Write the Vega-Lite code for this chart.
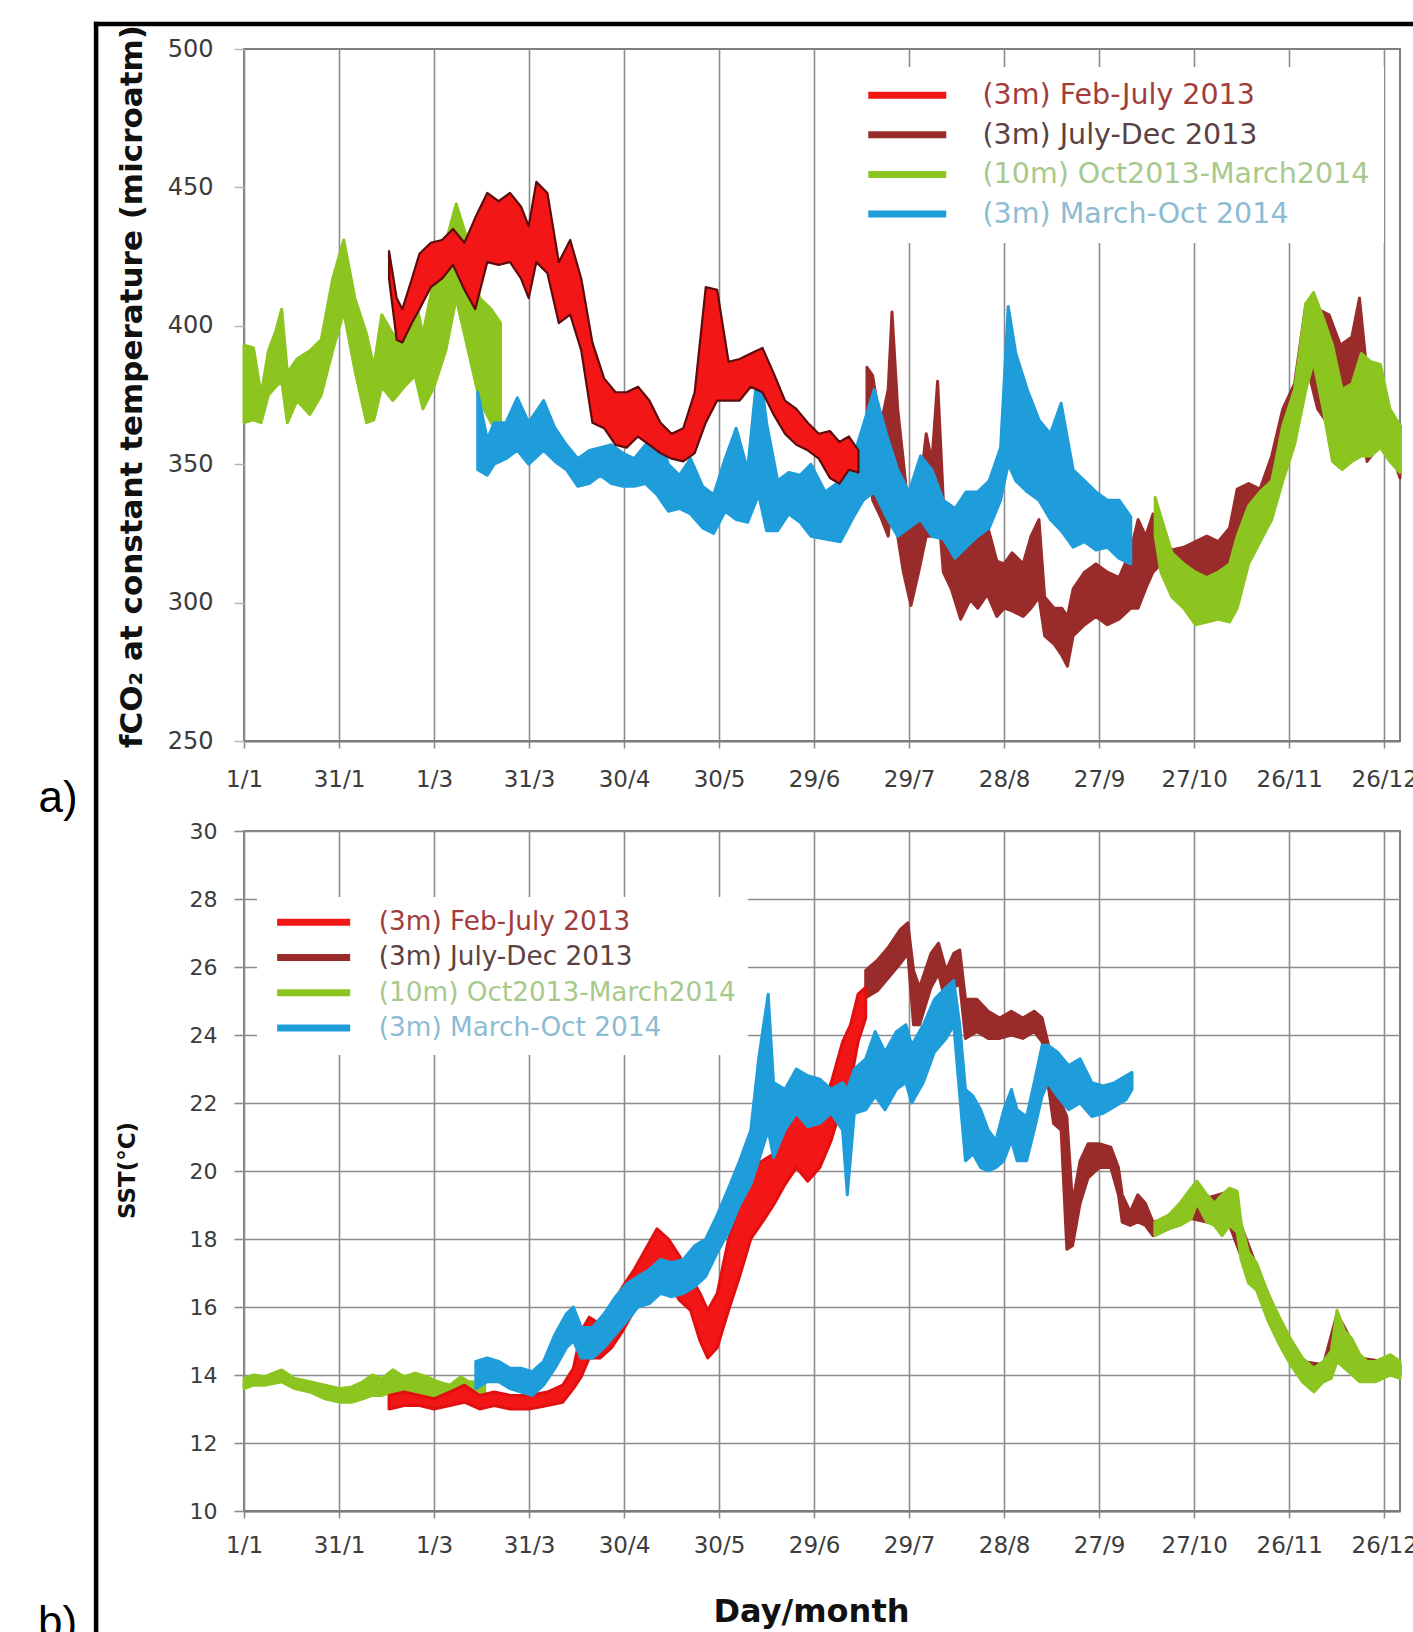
{
  "$schema": "https://vega.github.io/schema/vega-lite/v6.json",
  "background": "#ffffff",
  "padding": {"left": 37, "top": 18, "right": 0, "bottom": 0},
  "autosize": {"type": "pad"},
  "config": {"view": {"stroke": "#7f7f7f", "strokeWidth": 2}},
  "spacing": 90,
  "bounds": "flush",
  "resolve": {"legend": {"color": "independent"}},
  "datasets": {
    "co2": [
      {"s":"C","g":1,"d":0,"lo":365,"hi":393},{"s":"C","g":1,"d":3,"lo":366,"hi":392},{"s":"C","g":1,"d":5.4,"lo":365,"hi":375},{"s":"C","g":1,"d":7.7,"lo":375,"hi":391},{"s":"C","g":1,"d":10,"lo":378,"hi":398},{"s":"C","g":1,"d":11.9,"lo":380,"hi":406},{"s":"C","g":1,"d":13.7,"lo":365,"hi":383},{"s":"C","g":1,"d":16.7,"lo":373,"hi":388},{"s":"C","g":1,"d":20.8,"lo":368,"hi":391},{"s":"C","g":1,"d":24.4,"lo":375,"hi":395},{"s":"C","g":1,"d":28,"lo":391,"hi":417},{"s":"C","g":1,"d":31.5,"lo":405,"hi":431},{"s":"C","g":1,"d":35,"lo":384,"hi":410},{"s":"C","g":1,"d":38.7,"lo":365,"hi":397},{"s":"C","g":1,"d":41,"lo":366,"hi":385},{"s":"C","g":1,"d":43.5,"lo":378,"hi":404},{"s":"C","g":1,"d":47,"lo":373,"hi":397},{"s":"C","g":1,"d":50.6,"lo":378,"hi":395},{"s":"C","g":1,"d":54,"lo":382,"hi":410},{"s":"C","g":1,"d":56.5,"lo":370,"hi":397},{"s":"C","g":1,"d":60,"lo":378,"hi":417},{"s":"C","g":1,"d":63.7,"lo":391,"hi":430},{"s":"C","g":1,"d":67,"lo":410,"hi":444},{"s":"C","g":1,"d":70.8,"lo":391,"hi":430},{"s":"C","g":1,"d":74.4,"lo":373,"hi":410},{"s":"C","g":1,"d":78,"lo":365,"hi":406},{"s":"C","g":1,"d":81,"lo":361,"hi":401},
      {"s":"A","d":45.8,"lo":417,"hi":427},{"s":"A","d":48.2,"lo":395,"hi":410},{"s":"A","d":50,"lo":394,"hi":406},{"s":"A","d":53,"lo":401,"hi":417},{"s":"A","d":55.4,"lo":406,"hi":426},{"s":"A","d":59,"lo":414,"hi":430},{"s":"A","d":62.5,"lo":417,"hi":431},{"s":"A","d":66,"lo":422,"hi":435},{"s":"A","d":69.6,"lo":413,"hi":430},{"s":"A","d":73,"lo":406,"hi":439},{"s":"A","d":76.8,"lo":423,"hi":448},{"s":"A","d":80.4,"lo":422,"hi":445},{"s":"A","d":84,"lo":423,"hi":448},{"s":"A","d":87.5,"lo":417,"hi":443},{"s":"A","d":89.9,"lo":410,"hi":436},{"s":"A","d":92.3,"lo":423,"hi":452},{"s":"A","d":95.8,"lo":419,"hi":448},{"s":"A","d":99.4,"lo":401,"hi":423},{"s":"A","d":103,"lo":404,"hi":431},{"s":"A","d":106.5,"lo":391,"hi":417},{"s":"A","d":110,"lo":365,"hi":394},{"s":"A","d":113.7,"lo":363,"hi":381},{"s":"A","d":117.3,"lo":357,"hi":376},{"s":"A","d":120.8,"lo":356,"hi":376},{"s":"A","d":124.4,"lo":360,"hi":378},{"s":"A","d":128,"lo":357,"hi":373},{"s":"A","d":131.5,"lo":354,"hi":365},{"s":"A","d":135,"lo":352,"hi":361},{"s":"A","d":138.7,"lo":351,"hi":363},{"s":"A","d":142.3,"lo":354,"hi":376},{"s":"A","d":145.8,"lo":365,"hi":414},{"s":"A","d":149.4,"lo":373,"hi":413},{"s":"A","d":153,"lo":373,"hi":387},{"s":"A","d":156.5,"lo":373,"hi":388},{"s":"A","d":160,"lo":378,"hi":390},{"s":"A","d":163.7,"lo":376,"hi":392},{"s":"A","d":167.2,"lo":368,"hi":383},{"s":"A","d":170.8,"lo":361,"hi":373},{"s":"A","d":174.4,"lo":357,"hi":370},{"s":"A","d":178,"lo":355,"hi":365},{"s":"A","d":181.5,"lo":352,"hi":361},{"s":"A","d":185,"lo":345,"hi":362},{"s":"A","d":188,"lo":343,"hi":358},{"s":"A","d":191,"lo":348,"hi":360},{"s":"A","d":194,"lo":347,"hi":355},
      {"s":"D","d":73.8,"lo":348,"hi":376},{"s":"D","d":76.8,"lo":346,"hi":359},{"s":"D","d":79,"lo":350,"hi":365},{"s":"D","d":82.7,"lo":352,"hi":365},{"s":"D","d":86.3,"lo":355,"hi":374},{"s":"D","d":89.9,"lo":350,"hi":365},{"s":"D","d":94.6,"lo":355,"hi":373},{"s":"D","d":98.2,"lo":351,"hi":363},{"s":"D","d":101.8,"lo":348,"hi":357},{"s":"D","d":105.4,"lo":342,"hi":352},{"s":"D","d":109,"lo":343,"hi":355},{"s":"D","d":112.5,"lo":346,"hi":356},{"s":"D","d":116,"lo":343,"hi":357},{"s":"D","d":119.6,"lo":342,"hi":354},{"s":"D","d":123.2,"lo":342,"hi":352},{"s":"D","d":126.8,"lo":343,"hi":357},{"s":"D","d":130.4,"lo":339,"hi":363},{"s":"D","d":134,"lo":333,"hi":350},{"s":"D","d":137.5,"lo":334,"hi":346},{"s":"D","d":141,"lo":332,"hi":352},{"s":"D","d":144.8,"lo":327,"hi":342},{"s":"D","d":148.3,"lo":325,"hi":339},{"s":"D","d":151.9,"lo":333,"hi":352},{"s":"D","d":155.4,"lo":330,"hi":363},{"s":"D","d":159,"lo":329,"hi":348},{"s":"D","d":162.5,"lo":339,"hi":388},{"s":"D","d":165,"lo":326,"hi":365},{"s":"D","d":168.5,"lo":326,"hi":344},{"s":"D","d":172,"lo":332,"hi":347},{"s":"D","d":175.6,"lo":329,"hi":346},{"s":"D","d":179,"lo":324,"hi":350},{"s":"D","d":183.5,"lo":323,"hi":340},{"s":"D","d":188.3,"lo":322,"hi":344},{"s":"D","d":192,"lo":330,"hi":351},{"s":"D","d":195.5,"lo":337,"hi":364},{"s":"D","d":199,"lo":340,"hi":377},{"s":"D","d":202.8,"lo":331,"hi":361},{"s":"D","d":206.4,"lo":324,"hi":348},{"s":"D","d":210,"lo":327,"hi":340},{"s":"D","d":213.6,"lo":330,"hi":353},{"s":"D","d":217.2,"lo":324,"hi":348},{"s":"D","d":220.8,"lo":323,"hi":337},{"s":"D","d":224.5,"lo":316,"hi":334},{"s":"D","d":228,"lo":320,"hi":340},{"s":"D","d":231.7,"lo":324,"hi":340},{"s":"D","d":235.3,"lo":327,"hi":344},{"s":"D","d":238.9,"lo":337,"hi":356},{"s":"D","d":241.3,"lo":350,"hi":407},{"s":"D","d":243.7,"lo":344,"hi":390},{"s":"D","d":247.3,"lo":340,"hi":377},{"s":"D","d":251,"lo":337,"hi":366},{"s":"D","d":254.6,"lo":330,"hi":361},{"s":"D","d":258,"lo":326,"hi":372},{"s":"D","d":261.8,"lo":320,"hi":348},{"s":"D","d":265.4,"lo":322,"hi":344},{"s":"D","d":269,"lo":319,"hi":340},{"s":"D","d":272.6,"lo":320,"hi":337},{"s":"D","d":276.3,"lo":316,"hi":337},{"s":"D","d":280,"lo":314,"hi":331},
      {"s":"B","d":196.7,"lo":364,"hi":385},{"s":"B","d":198.5,"lo":337,"hi":382},{"s":"B","d":201,"lo":331,"hi":364},{"s":"B","d":203.4,"lo":324,"hi":377},{"s":"B","d":204.6,"lo":337,"hi":405},{"s":"B","d":206.4,"lo":324,"hi":370},{"s":"B","d":208.2,"lo":311,"hi":351},{"s":"B","d":210.6,"lo":299,"hi":324},{"s":"B","d":213,"lo":311,"hi":337},{"s":"B","d":215.4,"lo":324,"hi":361},{"s":"B","d":217.2,"lo":324,"hi":351},{"s":"B","d":219,"lo":337,"hi":380},{"s":"B","d":220.8,"lo":311,"hi":337},{"s":"B","d":223.3,"lo":305,"hi":331},{"s":"B","d":226.3,"lo":294,"hi":324},{"s":"B","d":229.3,"lo":301,"hi":331},{"s":"B","d":231.7,"lo":298,"hi":327},{"s":"B","d":234.7,"lo":303,"hi":328},{"s":"B","d":237.7,"lo":295,"hi":315},{"s":"B","d":240,"lo":298,"hi":314},{"s":"B","d":242.5,"lo":297,"hi":318},{"s":"B","d":246,"lo":295,"hi":314},{"s":"B","d":248.5,"lo":298,"hi":324},{"s":"B","d":251,"lo":302,"hi":330},{"s":"B","d":252.8,"lo":288,"hi":302},{"s":"B","d":255.8,"lo":285,"hi":298},{"s":"B","d":258.2,"lo":281,"hi":298},{"s":"B","d":260,"lo":277,"hi":295},{"s":"B","d":261.8,"lo":288,"hi":305},{"s":"B","d":265.4,"lo":292,"hi":311},{"s":"B","d":269,"lo":295,"hi":314},{"s":"B","d":272.6,"lo":292,"hi":311},{"s":"B","d":276.3,"lo":294,"hi":309},{"s":"B","d":280,"lo":298,"hi":319},{"s":"B","d":282.3,"lo":298,"hi":330},{"s":"B","d":284.7,"lo":305,"hi":324},{"s":"B","d":287,"lo":311,"hi":332},{"s":"B","d":289.5,"lo":314,"hi":324},{"s":"B","d":293,"lo":309,"hi":319},{"s":"B","d":296.7,"lo":311,"hi":320},{"s":"B","d":300.4,"lo":309,"hi":322},{"s":"B","d":304,"lo":310,"hi":324},{"s":"B","d":307.6,"lo":309,"hi":322},{"s":"B","d":311.2,"lo":311,"hi":327},{"s":"B","d":313.6,"lo":324,"hi":341},{"s":"B","d":317.2,"lo":331,"hi":343},{"s":"B","d":320.8,"lo":330,"hi":341},{"s":"B","d":324.5,"lo":337,"hi":353},{"s":"B","d":328,"lo":351,"hi":370},{"s":"B","d":331.7,"lo":364,"hi":379},{"s":"B","d":335.3,"lo":387,"hi":408},{"s":"B","d":339,"lo":370,"hi":406},{"s":"B","d":342.6,"lo":364,"hi":404},{"s":"B","d":346.2,"lo":351,"hi":393},{"s":"B","d":349.8,"lo":364,"hi":396},{"s":"B","d":352.2,"lo":370,"hi":410},{"s":"B","d":354.6,"lo":351,"hi":383},{"s":"B","d":358,"lo":356,"hi":372},{"s":"B","d":361.8,"lo":356,"hi":366},{"s":"B","d":365,"lo":345,"hi":364},
      {"s":"C","g":2,"d":287.7,"lo":324,"hi":338},{"s":"C","g":2,"d":289.5,"lo":311,"hi":331},{"s":"C","g":2,"d":293,"lo":302,"hi":318},{"s":"C","g":2,"d":296.7,"lo":298,"hi":314},{"s":"C","g":2,"d":300.4,"lo":292,"hi":311},{"s":"C","g":2,"d":304,"lo":293,"hi":309},{"s":"C","g":2,"d":307.6,"lo":294,"hi":311},{"s":"C","g":2,"d":311.2,"lo":293,"hi":314},{"s":"C","g":2,"d":313.6,"lo":298,"hi":324},{"s":"C","g":2,"d":317.2,"lo":314,"hi":335},{"s":"C","g":2,"d":320.8,"lo":322,"hi":340},{"s":"C","g":2,"d":324.5,"lo":330,"hi":344},{"s":"C","g":2,"d":328,"lo":344,"hi":364},{"s":"C","g":2,"d":331.7,"lo":357,"hi":377},{"s":"C","g":2,"d":335.3,"lo":377,"hi":408},{"s":"C","g":2,"d":337.7,"lo":387,"hi":412},{"s":"C","g":2,"d":340.7,"lo":370,"hi":403},{"s":"C","g":2,"d":343.7,"lo":351,"hi":393},{"s":"C","g":2,"d":346.7,"lo":348,"hi":377},{"s":"C","g":2,"d":349.8,"lo":351,"hi":379},{"s":"C","g":2,"d":352.8,"lo":353,"hi":390},{"s":"C","g":2,"d":355.8,"lo":353,"hi":387},{"s":"C","g":2,"d":358.8,"lo":356,"hi":386},{"s":"C","g":2,"d":361.8,"lo":351,"hi":370},{"s":"C","g":2,"d":365,"lo":347,"hi":364}
    ],
    "sst": [
      {"s":"C","g":1,"d":0,"lo":13.6,"hi":13.9},{"s":"C","g":1,"d":3,"lo":13.7,"hi":14.0},{"s":"C","g":1,"d":6.5,"lo":13.7,"hi":13.95},{"s":"C","g":1,"d":11.9,"lo":13.8,"hi":14.15},{"s":"C","g":1,"d":16,"lo":13.6,"hi":13.9},{"s":"C","g":1,"d":20.8,"lo":13.5,"hi":13.8},{"s":"C","g":1,"d":25.6,"lo":13.3,"hi":13.7},{"s":"C","g":1,"d":30.4,"lo":13.2,"hi":13.6},{"s":"C","g":1,"d":34,"lo":13.2,"hi":13.65},{"s":"C","g":1,"d":37.5,"lo":13.3,"hi":13.8},{"s":"C","g":1,"d":40.5,"lo":13.4,"hi":14.0},{"s":"C","g":1,"d":43.5,"lo":13.4,"hi":13.9},{"s":"C","g":1,"d":47,"lo":13.5,"hi":14.15},{"s":"C","g":1,"d":50.6,"lo":13.4,"hi":13.95},{"s":"C","g":1,"d":54,"lo":13.5,"hi":14.05},{"s":"C","g":1,"d":57.7,"lo":13.4,"hi":13.95},{"s":"C","g":1,"d":61.3,"lo":13.3,"hi":13.8},{"s":"C","g":1,"d":65,"lo":13.3,"hi":13.7},{"s":"C","g":1,"d":68.5,"lo":13.5,"hi":13.95},{"s":"C","g":1,"d":71,"lo":13.4,"hi":13.8},{"s":"C","g":1,"d":74,"lo":13.4,"hi":13.8},{"s":"C","g":1,"d":76,"lo":13.5,"hi":13.9},
      {"s":"A","d":45.8,"lo":13.0,"hi":13.4},{"s":"A","d":50.6,"lo":13.1,"hi":13.5},{"s":"A","d":55.4,"lo":13.1,"hi":13.4},{"s":"A","d":60,"lo":13.0,"hi":13.3},{"s":"A","d":65,"lo":13.1,"hi":13.5},{"s":"A","d":69.6,"lo":13.2,"hi":13.7},{"s":"A","d":74.4,"lo":13.0,"hi":13.4},{"s":"A","d":79,"lo":13.1,"hi":13.5},{"s":"A","d":84,"lo":13.0,"hi":13.4},{"s":"A","d":90,"lo":13.0,"hi":13.4},{"s":"A","d":95.8,"lo":13.1,"hi":13.5},{"s":"A","d":100.6,"lo":13.2,"hi":13.7},{"s":"A","d":104,"lo":13.6,"hi":14.2},{"s":"A","d":106.5,"lo":13.95,"hi":15.3},{"s":"A","d":109,"lo":14.5,"hi":15.7},{"s":"A","d":112.5,"lo":14.5,"hi":15.5},{"s":"A","d":116,"lo":14.8,"hi":16.0},{"s":"A","d":119.6,"lo":15.3,"hi":16.6},{"s":"A","d":123.2,"lo":15.9,"hi":17.1},{"s":"A","d":126.8,"lo":16.3,"hi":17.7},{"s":"A","d":130.4,"lo":16.9,"hi":18.3},{"s":"A","d":134,"lo":16.7,"hi":18.0},{"s":"A","d":137.5,"lo":16.2,"hi":17.5},{"s":"A","d":141,"lo":15.9,"hi":16.9},{"s":"A","d":144,"lo":15.0,"hi":16.4},{"s":"A","d":146.4,"lo":14.5,"hi":15.9},{"s":"A","d":149.4,"lo":14.8,"hi":16.4},{"s":"A","d":153,"lo":15.9,"hi":18.0},{"s":"A","d":156.5,"lo":16.9,"hi":19.0},{"s":"A","d":160,"lo":18.0,"hi":20.1},{"s":"A","d":163.7,"lo":18.5,"hi":20.3},{"s":"A","d":167.2,"lo":19.0,"hi":20.5},{"s":"A","d":170.8,"lo":19.6,"hi":21.2},{"s":"A","d":174.4,"lo":20.1,"hi":21.7},{"s":"A","d":178,"lo":19.7,"hi":21.6},{"s":"A","d":181.8,"lo":20.1,"hi":21.8},{"s":"A","d":185.4,"lo":20.9,"hi":22.6},{"s":"A","d":189,"lo":22.0,"hi":23.8},{"s":"A","d":191.5,"lo":22.6,"hi":24.3},{"s":"A","d":193.9,"lo":23.8,"hi":25.2},{"s":"A","d":196.3,"lo":24.5,"hi":25.4},
      {"s":"D","d":73.2,"lo":13.6,"hi":14.4},{"s":"D","d":76.8,"lo":13.8,"hi":14.5},{"s":"D","d":80.4,"lo":13.8,"hi":14.4},{"s":"D","d":84,"lo":13.6,"hi":14.2},{"s":"D","d":87.5,"lo":13.5,"hi":14.2},{"s":"D","d":91,"lo":13.4,"hi":14.1},{"s":"D","d":94.6,"lo":13.7,"hi":14.4},{"s":"D","d":98.2,"lo":14.2,"hi":15.2},{"s":"D","d":101.8,"lo":14.8,"hi":15.8},{"s":"D","d":104,"lo":15.0,"hi":16.0},{"s":"D","d":106.5,"lo":14.5,"hi":15.4},{"s":"D","d":110,"lo":14.5,"hi":15.4},{"s":"D","d":113.7,"lo":14.8,"hi":15.8},{"s":"D","d":117.3,"lo":15.2,"hi":16.3},{"s":"D","d":121,"lo":15.6,"hi":16.7},{"s":"D","d":124.4,"lo":16.0,"hi":16.9},{"s":"D","d":128,"lo":16.1,"hi":17.1},{"s":"D","d":131.5,"lo":16.4,"hi":17.4},{"s":"D","d":135,"lo":16.3,"hi":17.3},{"s":"D","d":138.7,"lo":16.4,"hi":17.4},{"s":"D","d":142.3,"lo":16.6,"hi":17.8},{"s":"D","d":145.8,"lo":16.9,"hi":18.0},{"s":"D","d":149.4,"lo":17.6,"hi":18.7},{"s":"D","d":153,"lo":18.2,"hi":19.5},{"s":"D","d":156.5,"lo":19.0,"hi":20.3},{"s":"D","d":160,"lo":19.6,"hi":21.2},{"s":"D","d":162.5,"lo":20.3,"hi":23.3},{"s":"D","d":165.5,"lo":21.2,"hi":25.2},{"s":"D","d":167.2,"lo":20.4,"hi":22.6},{"s":"D","d":170.8,"lo":21.2,"hi":22.4},{"s":"D","d":174.4,"lo":21.7,"hi":23.0},{"s":"D","d":178,"lo":21.3,"hi":22.8},{"s":"D","d":181.8,"lo":21.4,"hi":22.7},{"s":"D","d":185.4,"lo":21.7,"hi":22.4},{"s":"D","d":189,"lo":21.2,"hi":22.6},{"s":"D","d":190.5,"lo":19.3,"hi":22.4},{"s":"D","d":192.7,"lo":21.7,"hi":23.0},{"s":"D","d":196.3,"lo":21.8,"hi":23.3},{"s":"D","d":199.3,"lo":22.2,"hi":24.1},{"s":"D","d":202.4,"lo":21.8,"hi":23.5},{"s":"D","d":206,"lo":22.4,"hi":24.1},{"s":"D","d":209,"lo":22.6,"hi":24.3},{"s":"D","d":210.8,"lo":22.0,"hi":23.7},{"s":"D","d":214.5,"lo":22.6,"hi":24.3},{"s":"D","d":218,"lo":23.5,"hi":25.05},{"s":"D","d":221.7,"lo":23.9,"hi":25.4},{"s":"D","d":224.1,"lo":24.3,"hi":25.6},{"s":"D","d":226,"lo":22.2,"hi":24.3},{"s":"D","d":227.8,"lo":20.3,"hi":22.4},{"s":"D","d":230.2,"lo":20.5,"hi":22.2},{"s":"D","d":232.6,"lo":20.1,"hi":21.8},{"s":"D","d":235,"lo":20.0,"hi":21.2},{"s":"D","d":237.4,"lo":20.1,"hi":20.9},{"s":"D","d":239.9,"lo":20.3,"hi":21.8},{"s":"D","d":242.3,"lo":20.9,"hi":22.4},{"s":"D","d":244.1,"lo":20.3,"hi":21.8},{"s":"D","d":247.1,"lo":20.3,"hi":21.6},{"s":"D","d":249.5,"lo":21.2,"hi":22.6},{"s":"D","d":252,"lo":22.2,"hi":23.7},{"s":"D","d":253.8,"lo":22.6,"hi":23.7},{"s":"D","d":256.8,"lo":22.2,"hi":23.5},{"s":"D","d":260.4,"lo":21.8,"hi":23.1},{"s":"D","d":264,"lo":22.0,"hi":23.3},{"s":"D","d":267.7,"lo":21.6,"hi":22.6},{"s":"D","d":271.3,"lo":21.7,"hi":22.5},{"s":"D","d":274.9,"lo":21.9,"hi":22.6},{"s":"D","d":278.5,"lo":22.1,"hi":22.8},{"s":"D","d":280.4,"lo":22.4,"hi":22.9},
      {"s":"B","d":196.3,"lo":25.1,"hi":25.9},{"s":"B","d":200,"lo":25.3,"hi":26.2},{"s":"B","d":203.6,"lo":25.7,"hi":26.6},{"s":"B","d":207.2,"lo":26.1,"hi":27.1},{"s":"B","d":209.6,"lo":26.4,"hi":27.3},{"s":"B","d":211.4,"lo":24.3,"hi":25.9},{"s":"B","d":213.3,"lo":24.3,"hi":25.4},{"s":"B","d":216.9,"lo":25.4,"hi":26.4},{"s":"B","d":219.3,"lo":25.8,"hi":26.7},{"s":"B","d":221.7,"lo":24.9,"hi":25.9},{"s":"B","d":224.1,"lo":25.4,"hi":26.4},{"s":"B","d":226,"lo":25.5,"hi":26.5},{"s":"B","d":227.8,"lo":23.9,"hi":25.05},{"s":"B","d":231.4,"lo":24.1,"hi":25.05},{"s":"B","d":235,"lo":23.9,"hi":24.7},{"s":"B","d":238.6,"lo":23.9,"hi":24.5},{"s":"B","d":242.3,"lo":24.0,"hi":24.7},{"s":"B","d":245.9,"lo":23.9,"hi":24.5},{"s":"B","d":249.5,"lo":24.1,"hi":24.7},{"s":"B","d":252,"lo":23.8,"hi":24.5},{"s":"B","d":253.8,"lo":22.6,"hi":23.8},{"s":"B","d":255.6,"lo":21.4,"hi":22.6},{"s":"B","d":258,"lo":21.2,"hi":22.0},{"s":"B","d":259.8,"lo":17.7,"hi":21.6},{"s":"B","d":261.6,"lo":17.8,"hi":19.05},{"s":"B","d":264,"lo":19.05,"hi":20.3},{"s":"B","d":266.5,"lo":19.8,"hi":20.8},{"s":"B","d":270,"lo":20.1,"hi":20.8},{"s":"B","d":273.7,"lo":20.1,"hi":20.7},{"s":"B","d":276.1,"lo":19.3,"hi":20.1},{"s":"B","d":277.3,"lo":18.5,"hi":19.3},{"s":"B","d":279.8,"lo":18.4,"hi":18.8},{"s":"B","d":282.2,"lo":18.5,"hi":19.3},{"s":"B","d":284.6,"lo":18.4,"hi":19.05},{"s":"B","d":287,"lo":18.1,"hi":18.5},{"s":"B","d":291.9,"lo":18.3,"hi":18.6},{"s":"B","d":299.1,"lo":18.6,"hi":19.4},{"s":"B","d":304,"lo":18.5,"hi":19.2},{"s":"B","d":311.2,"lo":18.4,"hi":19.4},{"s":"B","d":314.8,"lo":17.5,"hi":18.4},{"s":"B","d":319.7,"lo":16.6,"hi":17.2},{"s":"B","d":326.9,"lo":15.0,"hi":15.6},{"s":"B","d":334.2,"lo":13.9,"hi":14.4},{"s":"B","d":340.8,"lo":13.9,"hi":14.3},{"s":"B","d":345.1,"lo":14.5,"hi":15.8},{"s":"B","d":347.5,"lo":14.6,"hi":15.4},{"s":"B","d":352.3,"lo":13.9,"hi":14.5},{"s":"B","d":359.6,"lo":14.0,"hi":14.4},{"s":"B","d":365,"lo":14.0,"hi":14.3},
      {"s":"C","g":2,"d":287.6,"lo":18.1,"hi":18.5},{"s":"C","g":2,"d":291.9,"lo":18.3,"hi":18.7},{"s":"C","g":2,"d":295.5,"lo":18.4,"hi":19.05},{"s":"C","g":2,"d":299.1,"lo":18.6,"hi":19.5},{"s":"C","g":2,"d":300.9,"lo":19.05,"hi":19.7},{"s":"C","g":2,"d":304,"lo":18.5,"hi":19.3},{"s":"C","g":2,"d":306.4,"lo":18.4,"hi":19.05},{"s":"C","g":2,"d":308.8,"lo":18.1,"hi":19.3},{"s":"C","g":2,"d":311.2,"lo":18.4,"hi":19.5},{"s":"C","g":2,"d":313.6,"lo":18.2,"hi":19.4},{"s":"C","g":2,"d":314.8,"lo":17.4,"hi":18.5},{"s":"C","g":2,"d":317.2,"lo":16.7,"hi":17.6},{"s":"C","g":2,"d":319.7,"lo":16.5,"hi":17.3},{"s":"C","g":2,"d":323.3,"lo":15.6,"hi":16.4},{"s":"C","g":2,"d":326.9,"lo":14.9,"hi":15.7},{"s":"C","g":2,"d":330.5,"lo":14.3,"hi":15.05},{"s":"C","g":2,"d":334.2,"lo":13.8,"hi":14.5},{"s":"C","g":2,"d":337.8,"lo":13.5,"hi":14.2},{"s":"C","g":2,"d":340.8,"lo":13.8,"hi":14.4},{"s":"C","g":2,"d":343.3,"lo":13.9,"hi":14.7},{"s":"C","g":2,"d":345.1,"lo":14.4,"hi":15.9},{"s":"C","g":2,"d":347.5,"lo":14.2,"hi":15.3},{"s":"C","g":2,"d":349.9,"lo":14.0,"hi":15.05},{"s":"C","g":2,"d":352.3,"lo":13.8,"hi":14.6},{"s":"C","g":2,"d":354.7,"lo":13.8,"hi":14.4},{"s":"C","g":2,"d":357.2,"lo":13.8,"hi":14.4},{"s":"C","g":2,"d":359.6,"lo":13.9,"hi":14.5},{"s":"C","g":2,"d":362,"lo":14.0,"hi":14.6},{"s":"C","g":2,"d":365,"lo":13.9,"hi":14.4}
    ]
  },
  "vconcat": [
    {
      "width": 1156,
      "height": 692,
      "layer": [
        {
          "data": {"values": []},
          "mark": {"type": "line"},
          "encoding": {
            "x": {"field": "d", "type": "quantitative", "scale": {"domain": [0, 365], "nice": false, "zero": false},
              "axis": {"values": [0,30,60,90,120,150,180,210,240,270,300,330,360],
                "labelExpr": "['1/1','31/1','1/3','31/3','30/4','30/5','29/6','29/7','28/8','27/9','27/10','26/11','26/12'][round(datum.value/30)]",
                "labelFlush": false, "labelOverlap": false, "labelBound": false,
                "grid": true, "gridColor": "#8c8c8c", "gridWidth": 1.6,
                "domain": true, "domainColor": "#7a7a7a", "domainWidth": 2.2,
                "ticks": true, "tickColor": "#8c8c8c", "tickSize": 7, "tickWidth": 1.6,
                "labelPadding": 20, "labelFont": "DejaVu Sans", "labelFontSize": 23, "labelColor": "#3c3c3c",
                "title": "a)", "titleX": -206, "titleY": 70, "titleAlign": "left", "titleBaseline": "alphabetic", "titleAngle": 0,
                "titleFont": "Liberation Sans", "titleFontSize": 44, "titleFontWeight": "normal", "titleColor": "#000000"}},
            "y": {"field": "lo", "type": "quantitative", "scale": {"domain": [250, 500], "nice": false, "zero": false},
              "axis": {"values": [250,300,350,400,450,500], "grid": false, "domain": false,
                "ticks": true, "tickColor": "#b5b5b5", "tickSize": 10, "tickWidth": 1.5,
                "labelPadding": 21, "labelFont": "DejaVu Sans", "labelFontSize": 24, "labelColor": "#3c3c3c",
                "title": "fCO₂ at constant temperature (microatm)", "titleFont": "DejaVu Sans", "titleFontSize": 31, "titleFontWeight": "bold", "titleColor": "#111111",
                "titleAngle": -90, "titleX": -112, "titleY": 337, "titleAlign": "center", "titleBaseline": "middle"}},
            "color": {"field": "s", "type": "nominal", "scale": {"domain": ["A","B","C","D"], "range": ["#f21616","#992b2b","#8cc420","#1f9ddb"]},
              "legend": {"orient": "none", "legendX": 601, "legendY": 18, "direction": "vertical", "title": null,
                "fillColor": "#ffffff", "padding": 14,
                "symbolType": "M-7.8,0H7.8", "symbolSize": 100, "symbolStrokeWidth": 7, "symbolOffset": 34,
                "labelOffset": 61, "labelFont": "DejaVu Sans", "labelFontSize": 28.5, "labelLimit": 800, "rowPadding": 10.6,
                "labelExpr": "datum.value == 'A' ? '(3m) Feb-July 2013' : datum.value == 'B' ? '(3m) July-Dec 2013' : datum.value == 'C' ? '(10m) Oct2013-March2014' : '(3m) March-Oct 2014'",
                "labelColor": {"expr": "datum.value == 'A' ? '#a13c3c' : datum.value == 'B' ? '#5a4242' : datum.value == 'C' ? '#a7c98b' : '#8cbcd3'"}}}
          }
        },
        {
          "data": {"values": [{}]},
          "mark": {"type": "rule", "clip": false, "color": "#000000", "strokeWidth": 4.5},
          "encoding": {
            "x": {"datum": -47.4, "type": "quantitative", "scale": {"domain": [0, 365], "nice": false, "zero": false}},
            "x2": {"datum": 372},
            "y": {"datum": 509.0, "type": "quantitative", "scale": {"domain": [250, 500], "nice": false, "zero": false}}
          }
        },
        {
          "data": {"values": [{}]},
          "mark": {"type": "rule", "clip": false, "color": "#000000", "strokeWidth": 4.5},
          "encoding": {
            "x": {"datum": -46.7, "type": "quantitative", "scale": {"domain": [0, 365], "nice": false, "zero": false}},
            "y": {"datum": 509.8, "type": "quantitative", "scale": {"domain": [250, 500], "nice": false, "zero": false}},
            "y2": {"datum": -76}
          }
        },
        {
          "data": {"name": "co2"},
          "transform": [{"filter": "datum.s == 'C' && datum.g == 1"}],
          "mark": {"type": "area", "stroke": "#8cc420", "strokeWidth": 3, "strokeJoin": "round"},
          "encoding": {
            "x": {"field": "d", "type": "quantitative", "scale": {"domain": [0, 365], "nice": false, "zero": false}},
            "y": {"field": "lo", "type": "quantitative", "scale": {"domain": [250, 500], "nice": false, "zero": false}},
            "y2": {"field": "hi"},
            "color": {"field": "s", "type": "nominal", "scale": {"domain": ["A","B","C","D"], "range": ["#f21616","#992b2b","#8cc420","#1f9ddb"]}}
          }
        },
        {
          "data": {"name": "co2"},
          "transform": [{"filter": "datum.s == 'B'"}],
          "mark": {"type": "area", "stroke": "#992b2b", "strokeWidth": 3, "strokeJoin": "round"},
          "encoding": {
            "x": {"field": "d", "type": "quantitative", "scale": {"domain": [0, 365], "nice": false, "zero": false}},
            "y": {"field": "lo", "type": "quantitative", "scale": {"domain": [250, 500], "nice": false, "zero": false}},
            "y2": {"field": "hi"},
            "color": {"field": "s", "type": "nominal", "scale": {"domain": ["A","B","C","D"], "range": ["#f21616","#992b2b","#8cc420","#1f9ddb"]}}
          }
        },
        {
          "data": {"name": "co2"},
          "transform": [{"filter": "datum.s == 'C' && datum.g == 2"}],
          "mark": {"type": "area", "stroke": "#8cc420", "strokeWidth": 3, "strokeJoin": "round"},
          "encoding": {
            "x": {"field": "d", "type": "quantitative", "scale": {"domain": [0, 365], "nice": false, "zero": false}},
            "y": {"field": "lo", "type": "quantitative", "scale": {"domain": [250, 500], "nice": false, "zero": false}},
            "y2": {"field": "hi"},
            "color": {"field": "s", "type": "nominal", "scale": {"domain": ["A","B","C","D"], "range": ["#f21616","#992b2b","#8cc420","#1f9ddb"]}}
          }
        },
        {
          "data": {"name": "co2"},
          "transform": [{"filter": "datum.s == 'D'"}],
          "mark": {"type": "area", "stroke": "#1f9ddb", "strokeWidth": 3, "strokeJoin": "round"},
          "encoding": {
            "x": {"field": "d", "type": "quantitative", "scale": {"domain": [0, 365], "nice": false, "zero": false}},
            "y": {"field": "lo", "type": "quantitative", "scale": {"domain": [250, 500], "nice": false, "zero": false}},
            "y2": {"field": "hi"},
            "color": {"field": "s", "type": "nominal", "scale": {"domain": ["A","B","C","D"], "range": ["#f21616","#992b2b","#8cc420","#1f9ddb"]}}
          }
        },
        {
          "data": {"name": "co2"},
          "transform": [{"filter": "datum.s == 'A'"}],
          "mark": {"type": "area", "stroke": "#5e0b0b", "strokeWidth": 2.2, "strokeJoin": "round"},
          "encoding": {
            "x": {"field": "d", "type": "quantitative", "scale": {"domain": [0, 365], "nice": false, "zero": false}},
            "y": {"field": "lo", "type": "quantitative", "scale": {"domain": [250, 500], "nice": false, "zero": false}},
            "y2": {"field": "hi"},
            "color": {"field": "s", "type": "nominal", "scale": {"domain": ["A","B","C","D"], "range": ["#f21616","#992b2b","#8cc420","#1f9ddb"]}}
          }
        }
      ]
    },
    {
      "width": 1156,
      "height": 680,
      "title": {"text": "b)", "orient": "bottom", "anchor": "start", "frame": "group", "dx": -206, "dy": 10, "offset": 0, "align": "left", "baseline": "alphabetic", "font": "Liberation Sans", "fontSize": 44, "fontWeight": "normal", "color": "#000000"},
      "layer": [
        {
          "data": {"values": []},
          "mark": {"type": "line"},
          "encoding": {
            "x": {"field": "d", "type": "quantitative", "scale": {"domain": [0, 365], "nice": false, "zero": false},
              "axis": {"values": [0,30,60,90,120,150,180,210,240,270,300,330,360],
                "labelExpr": "['1/1','31/1','1/3','31/3','30/4','30/5','29/6','29/7','28/8','27/9','27/10','26/11','26/12'][round(datum.value/30)]",
                "labelFlush": false, "labelOverlap": false, "labelBound": false,
                "grid": true, "gridColor": "#8c8c8c", "gridWidth": 1.6,
                "domain": true, "domainColor": "#7a7a7a", "domainWidth": 2.2,
                "ticks": true, "tickColor": "#8c8c8c", "tickSize": 7, "tickWidth": 1.6,
                "labelPadding": 16, "labelFont": "DejaVu Sans", "labelFontSize": 23, "labelColor": "#3c3c3c",
                "title": "Day/month", "titleX": 567, "titleY": 100, "titleAlign": "center", "titleBaseline": "middle", "titleAngle": 0,
                "titleFont": "DejaVu Sans", "titleFontSize": 32, "titleFontWeight": "bold", "titleColor": "#111111"}},
            "y": {"field": "lo", "type": "quantitative", "scale": {"domain": [10, 30], "nice": false, "zero": false},
              "axis": {"values": [10,12,14,16,18,20,22,24,26,28,30], "grid": true, "gridColor": "#8c8c8c", "gridWidth": 1.6, "domain": false,
                "ticks": true, "tickColor": "#8c8c8c", "tickSize": 10, "tickWidth": 1.6,
                "labelPadding": 17, "labelFont": "DejaVu Sans", "labelFontSize": 22, "labelColor": "#3c3c3c",
                "title": "SST(°C)", "titleFont": "DejaVu Sans", "titleFontSize": 23, "titleFontWeight": "bold", "titleColor": "#111111",
                "titleAngle": -90, "titleX": -117, "titleY": 339, "titleAlign": "center", "titleBaseline": "middle"}},
            "color": {"field": "s", "type": "nominal", "scale": {"domain": ["A","B","C","D"], "range": ["#f21616","#992b2b","#8cc420","#1f9ddb"]},
              "legend": {"orient": "none", "legendX": 13, "legendY": 66, "direction": "vertical", "title": null,
                "fillColor": "#ffffff", "padding": 12,
                "symbolType": "M-7.3,0H7.3", "symbolSize": 100, "symbolStrokeWidth": 7, "symbolOffset": 31.5,
                "labelOffset": 52, "labelFont": "DejaVu Sans", "labelFontSize": 26.3, "labelLimit": 800, "rowPadding": 6.3,
                "labelExpr": "datum.value == 'A' ? '(3m) Feb-July 2013' : datum.value == 'B' ? '(3m) July-Dec 2013' : datum.value == 'C' ? '(10m) Oct2013-March2014' : '(3m) March-Oct 2014'",
                "labelColor": {"expr": "datum.value == 'A' ? '#a13c3c' : datum.value == 'B' ? '#5a4242' : datum.value == 'C' ? '#a7c98b' : '#8cbcd3'"}}}
          }
        },
        {
          "data": {"name": "sst"},
          "transform": [{"filter": "datum.s == 'C' && datum.g == 1"}],
          "mark": {"type": "area", "stroke": "#8cc420", "strokeWidth": 3, "strokeJoin": "round"},
          "encoding": {
            "x": {"field": "d", "type": "quantitative", "scale": {"domain": [0, 365], "nice": false, "zero": false}},
            "y": {"field": "lo", "type": "quantitative", "scale": {"domain": [10, 30], "nice": false, "zero": false}},
            "y2": {"field": "hi"},
            "color": {"field": "s", "type": "nominal", "scale": {"domain": ["A","B","C","D"], "range": ["#f21616","#992b2b","#8cc420","#1f9ddb"]}}
          }
        },
        {
          "data": {"name": "sst"},
          "transform": [{"filter": "datum.s == 'B'"}],
          "mark": {"type": "area", "stroke": "#992b2b", "strokeWidth": 3, "strokeJoin": "round"},
          "encoding": {
            "x": {"field": "d", "type": "quantitative", "scale": {"domain": [0, 365], "nice": false, "zero": false}},
            "y": {"field": "lo", "type": "quantitative", "scale": {"domain": [10, 30], "nice": false, "zero": false}},
            "y2": {"field": "hi"},
            "color": {"field": "s", "type": "nominal", "scale": {"domain": ["A","B","C","D"], "range": ["#f21616","#992b2b","#8cc420","#1f9ddb"]}}
          }
        },
        {
          "data": {"name": "sst"},
          "transform": [{"filter": "datum.s == 'C' && datum.g == 2"}],
          "mark": {"type": "area", "stroke": "#8cc420", "strokeWidth": 3, "strokeJoin": "round"},
          "encoding": {
            "x": {"field": "d", "type": "quantitative", "scale": {"domain": [0, 365], "nice": false, "zero": false}},
            "y": {"field": "lo", "type": "quantitative", "scale": {"domain": [10, 30], "nice": false, "zero": false}},
            "y2": {"field": "hi"},
            "color": {"field": "s", "type": "nominal", "scale": {"domain": ["A","B","C","D"], "range": ["#f21616","#992b2b","#8cc420","#1f9ddb"]}}
          }
        },
        {
          "data": {"name": "sst"},
          "transform": [{"filter": "datum.s == 'A'"}],
          "mark": {"type": "area", "stroke": "#e01010", "strokeWidth": 3, "strokeJoin": "round"},
          "encoding": {
            "x": {"field": "d", "type": "quantitative", "scale": {"domain": [0, 365], "nice": false, "zero": false}},
            "y": {"field": "lo", "type": "quantitative", "scale": {"domain": [10, 30], "nice": false, "zero": false}},
            "y2": {"field": "hi"},
            "color": {"field": "s", "type": "nominal", "scale": {"domain": ["A","B","C","D"], "range": ["#f21616","#992b2b","#8cc420","#1f9ddb"]}}
          }
        },
        {
          "data": {"name": "sst"},
          "transform": [{"filter": "datum.s == 'D'"}],
          "mark": {"type": "area", "stroke": "#1f9ddb", "strokeWidth": 3, "strokeJoin": "round"},
          "encoding": {
            "x": {"field": "d", "type": "quantitative", "scale": {"domain": [0, 365], "nice": false, "zero": false}},
            "y": {"field": "lo", "type": "quantitative", "scale": {"domain": [10, 30], "nice": false, "zero": false}},
            "y2": {"field": "hi"},
            "color": {"field": "s", "type": "nominal", "scale": {"domain": ["A","B","C","D"], "range": ["#f21616","#992b2b","#8cc420","#1f9ddb"]}}
          }
        }
      ]
    }
  ]
}
